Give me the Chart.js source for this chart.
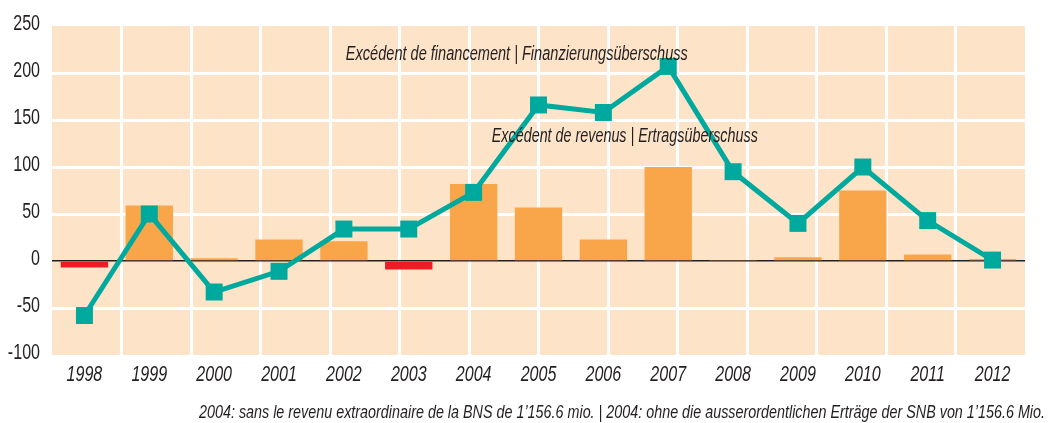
<!DOCTYPE html>
<html>
<head>
<meta charset="utf-8">
<script src="https://cdn.jsdelivr.net/npm/chart.js@4.4.0/dist/chart.umd.min.js"></script>
<style>
html, body { margin: 0; padding: 0; background: #fff; }
</style>
</head>
<body>
<canvas id="myChart" width="1048" height="423"></canvas>
<script>
const years = ['1998', '1999', '2000', '2001', '2002', '2003', '2004', '2005', '2006', '2007', '2008', '2009', '2010', '2011', '2012'];
const revenueSurplus = [-7, 59, 3, 23, 21, -9, 82, 57, 23, 100, 1, 4, 75, 7, 2];
const financingSurplus = [-58, 50, -33, -11, 34, 34, 73, 166, 158, 207, 95, 40, 100, 43, 1];
const yMin = -100;
const yMax = 250;
const yStep = 50;
const gridColumns = 14;

const labelFinancing = 'Excédent de financement | Finanzierungsüberschuss';
const labelRevenue = 'Excédent de revenus | Ertragsüberschuss';
const footnote = '2004: sans le revenu extraordinaire de la BNS de 1’156.6 mio. | 2004: ohne die ausserordentlichen Erträge der SNB von 1’156.6 Mio.';

const fam = "'Liberation Sans', Arial, sans-serif";
const textColor = '#231f20';
const peach = 'rgb(253, 228, 201)';
const orange = 'rgb(249, 166, 74)';
const red = 'rgb(237, 28, 36)';
const teal = 'rgb(0, 169, 157)';
const squeeze = 0.73; // no condensed face installed, so narrow the glyphs by hand

function drawNarrow(c, text, x, y, align, font) {
    c.save();
    c.translate(x, y);
    c.scale(squeeze, 1);
    c.font = font;
    c.textAlign = align;
    c.textBaseline = 'middle';
    c.fillText(text, 0, 0);
    c.restore();
}

// peach plot background, tick labels and the text labels
const decor = {
    id: 'decor',
    beforeDraw(chart) {
        const a = chart.chartArea;
        const c = chart.ctx;
        c.save();
        c.fillStyle = peach;
        c.fillRect(a.left, a.top, a.right - a.left, a.bottom - a.top);
        c.restore();
    },
    afterDraw(chart) {
        const c = chart.ctx;
        const x = chart.scales.x;
        const y = chart.scales.y;
        c.save();
        c.fillStyle = textColor;

        y.ticks.forEach((t, i) => {
            drawNarrow(c, String(t.value), chart.chartArea.left - 12, y.getPixelForTick(i) - 2, 'right', '22px ' + fam);
        });
        x.ticks.forEach((t, i) => {
            drawNarrow(c, x.getLabelForValue(t.value), x.getPixelForTick(i), chart.chartArea.bottom + 20, 'center', 'italic 22px ' + fam);
        });

        c.textBaseline = 'alphabetic';
        c.textAlign = 'left';
        c.font = 'italic 20px ' + fam;
        c.fillText(labelFinancing, x.getPixelForValue(4.03), y.getPixelForValue(214), 342);
        c.fillText(labelRevenue, x.getPixelForValue(6.28), y.getPixelForValue(127), 266);
        c.font = 'italic 19px ' + fam;
        c.textAlign = 'right';
        c.fillText(footnote, 1045, 418, 846);
        c.restore();
    }
};

const ctx = document.getElementById('myChart').getContext('2d');

const myChart = new Chart(ctx, {
    data: {
        labels: years,
        datasets: [{
            type: 'line',
            label: labelFinancing,
            data: financingSurplus,
            borderColor: teal,
            backgroundColor: teal,
            borderWidth: 5,
            pointStyle: 'rect',
            pointRadius: 12,
            pointBorderWidth: 0,
            pointBackgroundColor: teal,
            tension: 0,
            order: 0
        }, {
            type: 'bar',
            label: labelRevenue,
            data: revenueSurplus,
            backgroundColor: revenueSurplus.map(v => v < 0 ? red : orange),
            borderWidth: 0,
            categoryPercentage: 1,
            barPercentage: 0.73,
            order: 1
        }]
    },
    plugins: [decor],
    options: {
        responsive: false,
        animation: false,
        layout: {
            padding: { left: 0, right: 23, top: 26, bottom: 0 }
        },
        plugins: {
            legend: { display: false },
            tooltip: { enabled: false }
        },
        scales: {
            x: {
                type: 'category',
                offset: true,
                grid: { display: false, drawTicks: false },
                border: { display: false },
                ticks: { display: false },
                afterFit(scale) { scale.height = 68; }
            },
            x2: {
                type: 'linear',
                position: 'top',
                min: 0,
                max: gridColumns,
                ticks: { display: false, stepSize: 1 },
                grid: {
                    drawTicks: false,
                    lineWidth: 3,
                    color: c => (c.tick && (c.tick.value === 0 || c.tick.value === gridColumns)) ? 'rgba(0,0,0,0)' : '#ffffff'
                },
                border: { display: false },
                afterFit(scale) { scale.height = 0; }
            },
            y: {
                min: yMin,
                max: yMax,
                ticks: { display: false, stepSize: yStep },
                grid: {
                    drawTicks: false,
                    lineWidth: c => (c.tick && c.tick.value === 0) ? 1.5 : 3,
                    color: c => {
                        if (!c.tick) return '#ffffff';
                        if (c.tick.value === 0) return textColor;
                        if (c.tick.value === yMin || c.tick.value === yMax) return 'rgba(0,0,0,0)';
                        return '#ffffff';
                    }
                },
                border: { display: false },
                afterFit(scale) { scale.width = 52; }
            }
        }
    }
});
</script>
</body>
</html>
